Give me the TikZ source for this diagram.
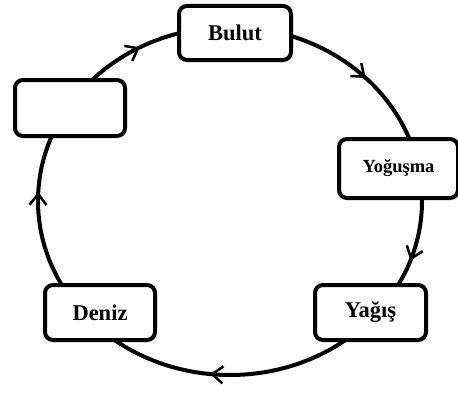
\documentclass[tikz,border=0pt]{standalone}
\usepackage{fontspec}
\setmainfont{Liberation Serif}
\usetikzlibrary{arrows.meta,calc}
\begin{document}
\begin{tikzpicture}[x=1pt,y=1pt,
  box/.style={draw, line width=4pt, rounded corners=8pt, fill=white,
    font=\bfseries\fontsize{22.5}{26}\selectfont, inner sep=0pt, align=center},
  smallbox/.style={box, font=\bfseries\fontsize{18.5}{22}\selectfont},
  ring/.style={line width=4pt},
  arr/.style={line width=2.5pt, -{Straight Barb[length=11pt,width=17pt]}}]
\useasboundingbox (0,0) rectangle (458,392);
\coordinate (c) at (230,191);
\draw[ring] (c) ellipse [x radius=192pt, y radius=174pt];
\foreach \t [count=\i] in {118,45,-20,-96,177}{
  \coordinate (s\i) at ($(c)+(\t+4:192pt and 174pt)$);
  \coordinate (e\i) at ($(c)+(\t:192pt and 174pt)$);
  \draw[arr] (s\i) -- (e\i);
}
\node[box, minimum width=112pt, minimum height=54pt] (bulut) at (235,359) {Bulut};
\node[box, minimum width=110pt, minimum height=56pt] (bos) at (70,284) {};
\node[smallbox, minimum width=119pt, minimum height=59pt] (yog) at (398.5,223.5) {Yoğuşma};
\node[box, minimum width=110pt, minimum height=55pt] (deniz) at (100,79.5) {Deniz};
\node[box, minimum width=111pt, minimum height=55pt] (yagis) at (370.5,79.5) {Yağış};
\end{tikzpicture}
\end{document}
